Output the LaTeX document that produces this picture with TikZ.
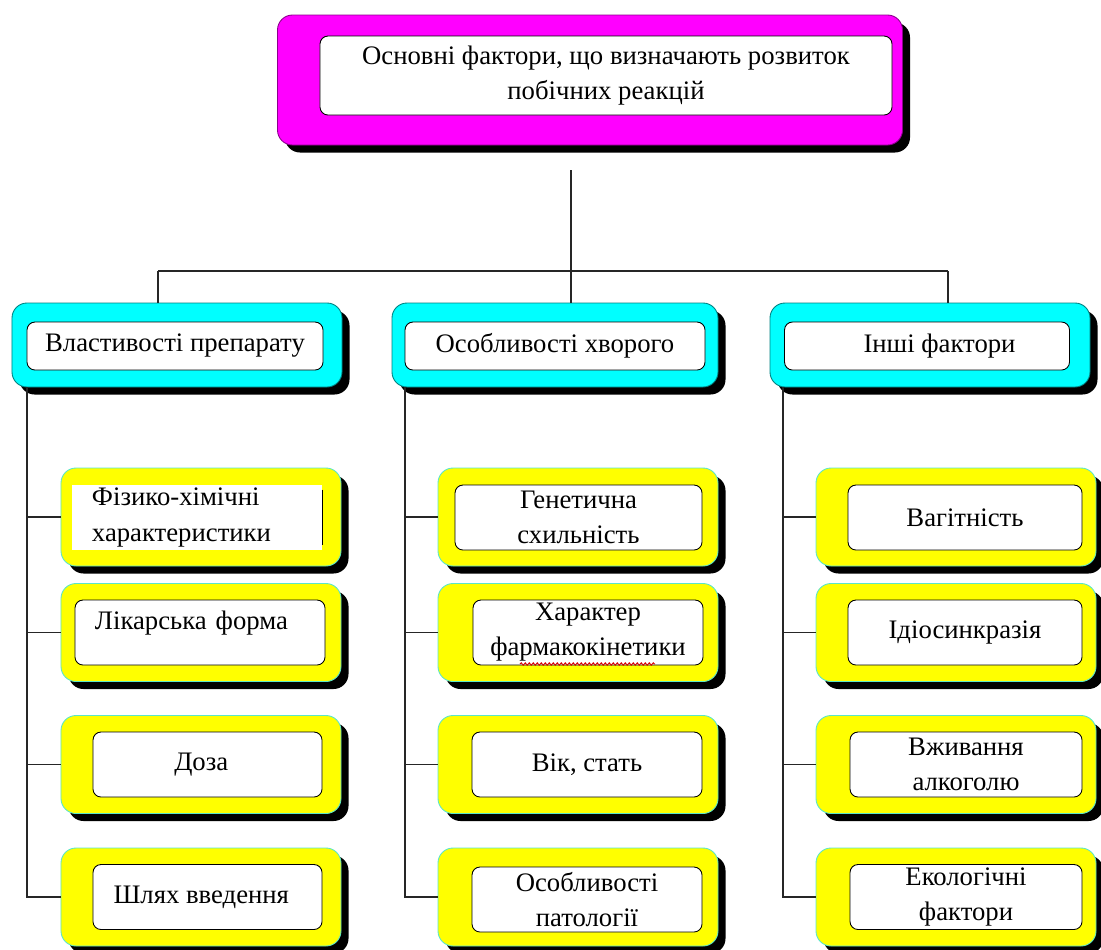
\documentclass[tikz,border=0pt]{standalone}
\usepackage{fontspec}
\setmainfont{Liberation Serif}
\usetikzlibrary{shadows,decorations.pathmorphing}
\definecolor{pinkfill}{RGB}{255,0,255}
\definecolor{aquafill}{RGB}{0,255,255}
\definecolor{lemonfill}{RGB}{255,255,0}
\definecolor{seaedge}{RGB}{90,230,200}

\begin{document}
\begin{tikzpicture}[
      x=0.2mm, y=-0.2mm,
      font=\fontsize{15.2}{20}\selectfont,
      shell/.style={rounded corners=3mm, inner sep=0pt, line width=0.5pt,
        drop shadow={shadow xshift=1.5mm, shadow yshift=-1.5mm,
          fill=black, opacity=1}},
      topshell/.style={shell, fill=pinkfill, draw=pinkfill!55!black,
        minimum width=125mm, minimum height=26mm},
      groupshell/.style={shell, fill=aquafill, draw=aquafill!50!black,
        minimum height=16.8mm},
      itemshell/.style={shell, fill=lemonfill, draw=seaedge,
        minimum width=56mm, minimum height=19.6mm},
      card/.style={draw=black, fill=white, rounded corners=1.6mm,
        align=center, inner sep=0pt, line width=0.5pt,
        minimum height=13mm},
      link/.style={draw=black!85, line width=0.6pt}
    ]
    \useasboundingbox (0,0) rectangle (1101,949);

    % top level
    \node[topshell] (main) at (590,80) {};
    \node[card, minimum width=114.4mm, minimum height=15.8mm] (maincard) at (606,75.5)
      {Основні фактори, що визначають розвиток\\побічних реакцій};

    % groups
    \node[groupshell, minimum width=66mm] (prep) at (177,345) {};
    \node[card, minimum width=59.2mm, minimum height=9.6mm] (prepcard) at (175,346) {Властивості препарату};
    \node[groupshell, minimum width=65.2mm] (patient) at (555,345) {};
    \node[card, minimum width=60mm, minimum height=9.6mm] (patientcard) at (555,346) {Особливості хворого};
    \node[groupshell, minimum width=64mm] (other) at (930,345) {};
    \node[card, minimum width=57mm, minimum height=9.6mm] (othercard) at (927,346) {\hspace*{5mm}Інші фактори};

    % drug properties
    \node[itemshell] (phys) at (201,517) {};
    \node[card, draw=none, rounded corners=0pt, minimum width=50mm, text width=42mm, align=left] (physcard) at (197,517.5)
      {Фізико-хімічні\\характеристики};
    \draw[black, line width=0.6pt] ([yshift=-1mm]physcard.north east) -- ([yshift=1mm]physcard.south east);
    \node[itemshell] (form) at (201,632.5) {};
    \node[card, minimum width=50mm, text width=42mm, align=left] (formcard) at (200,632.5)
      {\raisebox{5mm}{Лікарська форма}};
    \node[itemshell] (dose) at (201,764.5) {};
    \node[card, minimum width=45.8mm] (dosecard) at (207.5,764.5) {\hspace*{-2.5mm}Доза};
    \node[itemshell] (route) at (201,897) {};
    \node[card, minimum width=45.8mm] (routecard) at (207.5,897) {\hspace*{-2.5mm}Шлях введення};

    % patient features
    \node[itemshell] (gene) at (578,517) {};
    \node[card, minimum width=49.4mm] (genecard) at (578.5,517.5) {Генетична\\схильність};
    \node[itemshell] (kinet) at (578,632.5) {};
    \node[card, minimum width=46mm] (kinetcard) at (588,632.5) {Характер\\фармакокінетики};
    \node[itemshell] (age) at (578,764.5) {};
    \node[card, minimum width=46mm] (agecard) at (587,764.5) {Вік, стать};
    \node[itemshell] (pathol) at (578,897) {};
    \node[card, minimum width=46mm] (patholcard) at (587,899.5) {Особливості\\патології};
    \draw[red!85!black, line width=0.5pt, decorate,
      decoration={snake, amplitude=0.25mm, segment length=0.8mm}]
      (520,664) -- (655,664);

    % other factors
    \node[itemshell] (preg) at (956,517) {};
    \node[card, minimum width=46.8mm] (pregcard) at (965,517.5) {Вагітність};
    \node[itemshell] (idio) at (956,632.5) {};
    \node[card, minimum width=46.8mm] (idiocard) at (965,632.5) {Ідіосинкразія};
    \node[itemshell] (alcohol) at (956,764.5) {};
    \node[card, minimum width=46.4mm] (alcoholcard) at (966,764.5) {Вживання\\алкоголю};
    \node[itemshell] (ecology) at (956,897) {};
    \node[card, minimum width=46.4mm] (ecologycard) at (966,897) {Екологічні\\фактори};

    % connectors
    \coordinate (stem) at (571,170);
    \coordinate (hub) at (571,271);
    \coordinate (busleft) at (158,271);
    \coordinate (busright) at (948,271);
    \coordinate (trunka) at (27,0);
    \coordinate (trunkb) at (405,0);
    \coordinate (trunkc) at (783,0);

    \draw[link] (stem) -- (hub);
    \draw[link] (busleft) -- (busright);
    \draw[link] (busleft) -- (busleft |- prep.north);
    \draw[link] (hub) -- (hub |- patient.north);
    \draw[link] (busright) -- (busright |- other.north);

    \draw[link] (trunka |- prep.south) |- (route.west);
    \draw[link] (trunka |- phys.west) -- (phys.west);
    \draw[link] (trunka |- form.west) -- (form.west);
    \draw[link] (trunka |- dose.west) -- (dose.west);

    \draw[link] (trunkb |- patient.south) |- (pathol.west);
    \draw[link] (trunkb |- gene.west) -- (gene.west);
    \draw[link] (trunkb |- kinet.west) -- (kinet.west);
    \draw[link] (trunkb |- age.west) -- (age.west);

    \draw[link] (trunkc |- other.south) |- (ecology.west);
    \draw[link] (trunkc |- preg.west) -- (preg.west);
    \draw[link] (trunkc |- idio.west) -- (idio.west);
    \draw[link] (trunkc |- alcohol.west) -- (alcohol.west);
  \end{tikzpicture}
\end{document}
